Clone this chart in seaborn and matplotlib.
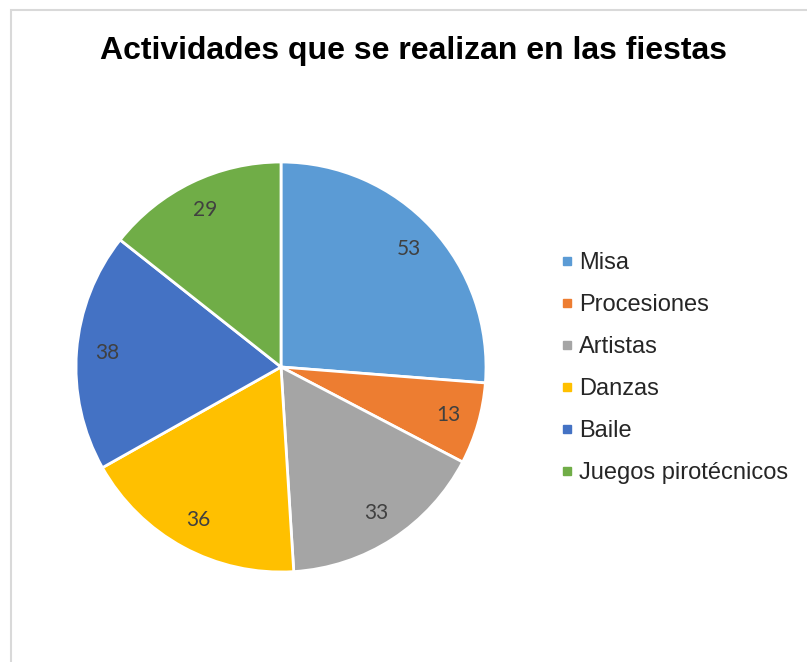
import matplotlib
matplotlib.use("Agg")
import matplotlib.pyplot as plt
import seaborn as sns
from matplotlib.lines import Line2D
from matplotlib.patches import Rectangle

actividades = ["Misa", "Procesiones", "Artistas", "Danzas", "Baile", "Juegos pirotécnicos"]
valores = [53, 13, 33, 36, 38, 29]
colores = ["#5B9BD5", "#ED7D31", "#A5A5A5", "#FFC000", "#4472C4", "#70AD47"]

sns.set_style("white")
plt.rcParams['font.family'] = ['Liberation Sans', 'DejaVu Sans']

palette = sns.color_palette(colores)

fig = plt.figure(figsize=(8.07, 6.62), dpi=100)

# light grey frame like the exported chart area
fig.patches.append(Rectangle((11 / 807, -0.05), 1.2, 1 - 10 / 662 + 0.05,
                             transform=fig.transFigure, fill=False,
                             edgecolor="#d9d9d9", linewidth=1.5))

# pie axes: centre (281, 367) px, radius 205 px
cx, cy, r = 281 / 807, 1 - 367 / 662, 205
ax = fig.add_axes([cx - r / 807, cy - r / 662, 2 * r / 807, 2 * r / 662])
wedges, texts, autotexts = ax.pie(
    valores, colors=palette, startangle=90, counterclock=False,
    autopct=lambda p: f"{round(p * sum(valores) / 100):d}", pctdistance=0.85,
    wedgeprops=dict(edgecolor="white", linewidth=2),
    textprops=dict(color="#404040", fontsize=15, family=["Lato", "DejaVu Sans"]))
ax.set_xlim(-1, 1)
ax.set_ylim(-1, 1)
ax.set_aspect("equal")
ax.axis("off")

fig.text(414 / 807, 1 - 59 / 662, "Actividades que se realizan en las fiestas",
         ha="center", va="baseline", fontsize=23, fontweight="bold", color="black")

handles = [Line2D([], [], marker="s", linestyle="none", markersize=5.5,
                  markerfacecolor=c, markeredgecolor=c) for c in colores]
fig.legend(handles, actividades, loc="center left",
           bbox_to_anchor=(560 / 807, 1 - 368 / 662), frameon=False,
           fontsize=17, handlelength=0.6, handletextpad=0.2,
           labelspacing=0.85, borderpad=0, borderaxespad=0)

plt.savefig("out.png", dpi=100)
